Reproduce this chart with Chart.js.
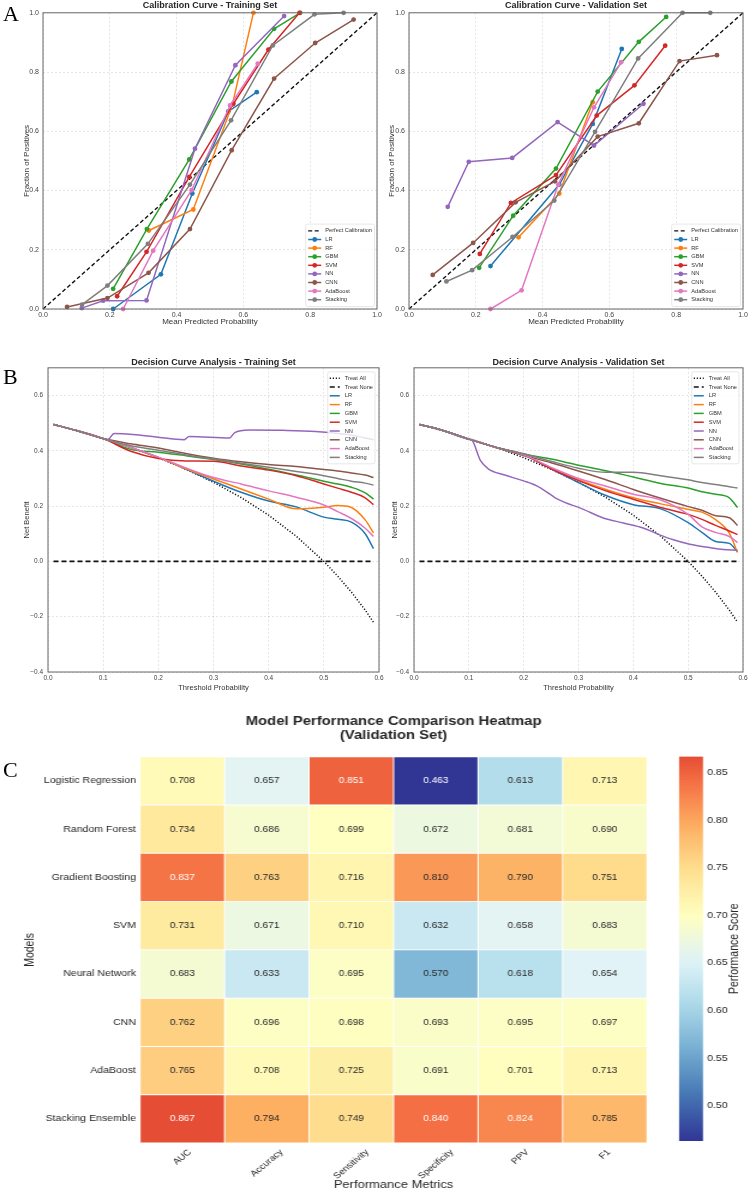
<!DOCTYPE html>
<html>
<head>
<meta charset="utf-8">
<script src="https://cdn.jsdelivr.net/npm/chart.js@4.4.1/dist/chart.umd.min.js"></script>
<style>
  body { margin: 0; background: #fff; }
  #page { position: relative; width: 750px; height: 1193px; overflow: hidden; background: #fff; }
  canvas { position: absolute; }
  .tag { position: absolute; font-family: 'Liberation Serif', 'DejaVu Serif', serif; font-size: 22px; line-height: 1; color: #000; }
</style>
</head>
<body>
<div id="page">
  <canvas id="cal-train" width="390" height="330" style="left:0;top:0"></canvas>
  <canvas id="cal-val" width="375" height="330" style="left:375px;top:0"></canvas>
  <canvas id="dca-train" width="395" height="370" style="left:0;top:330px"></canvas>
  <canvas id="dca-val" width="370" height="370" style="left:380px;top:330px"></canvas>
  <canvas id="heatmap" width="555" height="493" style="left:0;top:700px;transform:scaleX(1.2);transform-origin:0 0"></canvas>
  <canvas id="colorbar" width="75" height="493" style="left:660px;top:700px;transform:scaleX(1.2);transform-origin:0 0"></canvas>
  <div class="tag" style="left:3px;top:3px">A</div>
  <div class="tag" style="left:3px;top:366px">B</div>
  <div class="tag" style="left:3px;top:759px">C</div>
</div>
<script>
const FONT = "'Liberation Sans', Arial, Helvetica, sans-serif"
const GRID = 'rgba(0, 0, 0, 0.13)'
const TXT = '#262626'

const models = ['LR', 'RF', 'GBM', 'SVM', 'NN', 'CNN', 'AdaBoost', 'Stacking']
const modelColors = ['#1f77b4', '#ff7f0e', '#2ca02c', '#d62728', '#9467bd', '#8c564b', '#e377c2', '#7f7f7f']

// calibration curves: [mean predicted probability, fraction of positives]
const perfectCal = [[0, 0], [1, 1]]

const calTrainLR = [[0.21, 0.0], [0.353, 0.117], [0.447, 0.39], [0.555, 0.667], [0.64, 0.732]]
const calTrainRF = [[0.317, 0.265], [0.45, 0.336], [0.567, 0.69], [0.63, 1.0]]
const calTrainGBM = [[0.21, 0.068], [0.311, 0.27], [0.438, 0.505], [0.564, 0.768], [0.692, 0.946], [0.77, 1.0]]
const calTrainSVM = [[0.222, 0.043], [0.31, 0.193], [0.438, 0.446], [0.57, 0.693], [0.675, 0.876], [0.768, 1.0]]
const calTrainNN = [[0.116, 0.003], [0.18, 0.028], [0.31, 0.029], [0.455, 0.541], [0.576, 0.823], [0.722, 0.989]]
const calTrainCNN = [[0.072, 0.007], [0.193, 0.037], [0.316, 0.122], [0.44, 0.27], [0.565, 0.536], [0.692, 0.778], [0.815, 0.898], [0.93, 0.977]]
const calTrainAda = [[0.24, 0.0], [0.33, 0.197], [0.445, 0.401], [0.56, 0.687], [0.643, 0.828]]
const calTrainStack = [[0.117, 0.015], [0.193, 0.079], [0.314, 0.22], [0.44, 0.42], [0.563, 0.637], [0.688, 0.89], [0.813, 0.995], [0.9, 1.0]]

const calValLR = [[0.244, 0.145], [0.45, 0.42], [0.55, 0.625], [0.637, 0.878]]
const calValRF = [[0.328, 0.242], [0.45, 0.39], [0.55, 0.698]]
const calValGBM = [[0.21, 0.139], [0.312, 0.315], [0.44, 0.474], [0.565, 0.734], [0.688, 0.902], [0.77, 0.986]]
const calValSVM = [[0.212, 0.186], [0.305, 0.358], [0.44, 0.452], [0.562, 0.653], [0.675, 0.755], [0.767, 0.889]]
const calValNN = [[0.116, 0.345], [0.179, 0.497], [0.309, 0.51], [0.445, 0.631], [0.554, 0.552], [0.702, 0.693]]
const calValCNN = [[0.071, 0.115], [0.192, 0.223], [0.319, 0.36], [0.437, 0.431], [0.565, 0.582], [0.688, 0.627], [0.81, 0.837], [0.922, 0.857]]
const calValAda = [[0.244, 0.0], [0.337, 0.063], [0.447, 0.42], [0.554, 0.681], [0.635, 0.833]]
const calValStack = [[0.112, 0.093], [0.189, 0.131], [0.31, 0.243], [0.435, 0.366], [0.557, 0.598], [0.686, 0.846], [0.819, 1.0], [0.902, 1.0]]

// decision curves: net benefit at each threshold
const dcaX = [0.01, 0.05, 0.1, 0.15, 0.2, 0.25, 0.3, 0.35, 0.4, 0.45, 0.5, 0.525, 0.55, 0.575, 0.59]
const dcaAll = [0.495, 0.474, 0.444, 0.412, 0.375, 0.333, 0.286, 0.231, 0.167, 0.091, 0.0, -0.053, -0.111, -0.176, -0.22]
const dcaNone = [0, 0, 0, 0, 0, 0, 0, 0, 0, 0, 0, 0, 0, 0, 0]

const dcaTrainLR = [0.495, 0.474, 0.444, 0.412, 0.376, 0.334, 0.29, 0.25, 0.218, 0.197, 0.16, 0.152, 0.142, 0.1, 0.046]
const dcaTrainRF = [0.495, 0.474, 0.444, 0.412, 0.376, 0.335, 0.298, 0.262, 0.225, 0.19, 0.196, 0.202, 0.195, 0.15, 0.103]
const dcaTrainGBM = [0.495, 0.474, 0.444, 0.405, 0.395, 0.382, 0.368, 0.352, 0.333, 0.312, 0.29, 0.28, 0.268, 0.248, 0.225]
const dcaTrainSVM = [0.495, 0.474, 0.444, 0.398, 0.372, 0.363, 0.362, 0.345, 0.33, 0.31, 0.28, 0.265, 0.25, 0.23, 0.205]
const dcaTrainCNN = [0.495, 0.474, 0.444, 0.425, 0.41, 0.39, 0.373, 0.36, 0.35, 0.343, 0.332, 0.327, 0.32, 0.312, 0.303]
const dcaTrainAda = [0.495, 0.474, 0.444, 0.412, 0.377, 0.338, 0.303, 0.28, 0.255, 0.232, 0.204, 0.18, 0.155, 0.12, 0.09]
const dcaTrainStack = [0.495, 0.474, 0.444, 0.418, 0.402, 0.385, 0.37, 0.355, 0.34, 0.325, 0.31, 0.3, 0.29, 0.283, 0.276]
const dcaTrainNNx = [0.01, 0.05, 0.1, 0.108, 0.12, 0.154, 0.196, 0.247, 0.256, 0.329, 0.338, 0.365, 0.425, 0.485, 0.546, 0.59]
const dcaTrainNN = [0.495, 0.474, 0.444, 0.44, 0.462, 0.459, 0.45, 0.44, 0.452, 0.446, 0.465, 0.475, 0.474, 0.47, 0.458, 0.44]

const dcaValLR = [0.495, 0.475, 0.442, 0.412, 0.385, 0.335, 0.285, 0.238, 0.205, 0.19, 0.14, 0.105, 0.072, 0.065, 0.035]
const dcaValRF = [0.495, 0.475, 0.442, 0.412, 0.385, 0.338, 0.295, 0.26, 0.23, 0.208, 0.188, 0.178, 0.151, 0.102, 0.032]
const dcaValGBM = [0.495, 0.475, 0.442, 0.412, 0.388, 0.37, 0.348, 0.328, 0.305, 0.282, 0.265, 0.252, 0.243, 0.23, 0.195]
const dcaValSVM = [0.495, 0.475, 0.442, 0.412, 0.385, 0.335, 0.292, 0.255, 0.225, 0.195, 0.17, 0.152, 0.13, 0.11, 0.097]
const dcaValCNN = [0.495, 0.475, 0.442, 0.412, 0.383, 0.357, 0.327, 0.295, 0.26, 0.228, 0.198, 0.185, 0.165, 0.158, 0.13]
const dcaValAda = [0.495, 0.475, 0.442, 0.412, 0.385, 0.34, 0.3, 0.272, 0.243, 0.222, 0.17, 0.125, 0.105, 0.09, 0.068]
const dcaValStack = [0.495, 0.475, 0.442, 0.412, 0.389, 0.362, 0.337, 0.322, 0.322, 0.31, 0.295, 0.285, 0.278, 0.27, 0.265]
const dcaValNNx = [0.01, 0.05, 0.1, 0.105, 0.121, 0.136, 0.164, 0.2, 0.224, 0.248, 0.26, 0.309, 0.345, 0.382, 0.418, 0.448, 0.473, 0.503, 0.539, 0.564, 0.59]
const dcaValNN = [0.495, 0.475, 0.442, 0.44, 0.365, 0.334, 0.313, 0.291, 0.273, 0.243, 0.227, 0.188, 0.157, 0.139, 0.121, 0.096, 0.078, 0.062, 0.05, 0.043, 0.04]

// heatmap, validation set
const hmModels = ['Logistic Regression', 'Random Forest', 'Gradient Boosting', 'SVM', 'Neural Network', 'CNN', 'AdaBoost', 'Stacking Ensemble']
const hmMetrics = ['AUC', 'Accuracy', 'Sensitivity', 'Specificity', 'PPV', 'F1']
const hmAUC = [0.708, 0.734, 0.837, 0.731, 0.683, 0.762, 0.765, 0.867]
const hmAccuracy = [0.657, 0.686, 0.763, 0.671, 0.633, 0.696, 0.708, 0.794]
const hmSensitivity = [0.851, 0.699, 0.716, 0.710, 0.695, 0.698, 0.725, 0.749]
const hmSpecificity = [0.463, 0.672, 0.810, 0.632, 0.570, 0.693, 0.691, 0.840]
const hmPPV = [0.613, 0.681, 0.790, 0.658, 0.618, 0.695, 0.701, 0.824]
const hmF1 = [0.713, 0.690, 0.751, 0.683, 0.654, 0.697, 0.713, 0.785]
const hmColumns = [hmAUC, hmAccuracy, hmSensitivity, hmSpecificity, hmPPV, hmF1]
const hmCenter = 0.7

// RdYlBu reversed
const rdylbuR = ['#313695', '#4575b4', '#74add1', '#abd9e9', '#e0f3f8', '#ffffbf', '#fee090', '#fdae61', '#f46d43', '#d73027', '#a50026']
const allScores = hmColumns.flat()
const vMin = Math.min(...allScores)
const vMax = Math.max(...allScores)
const vSpan = Math.max(vMax - hmCenter, hmCenter - vMin)

function hex(h) {
  return [1, 3, 5].map(k => parseInt(h.slice(k, k + 2), 16))
}
function heatRGB(v) {
  let f = (v - (hmCenter - vSpan)) / (2 * vSpan)
  f = Math.min(1, Math.max(0, f)) * 10
  const i = Math.min(9, Math.floor(f))
  const t = f - i
  const a = hex(rdylbuR[i]), b = hex(rdylbuR[i + 1])
  return a.map((c, k) => Math.round(c + (b[k] - c) * t))
}
function rgbStr(c) {
  return `rgb(${c[0]}, ${c[1]}, ${c[2]})`
}
function textOn(c) {
  const lin = c.map(x => { x /= 255; return x <= 0.03928 ? x / 12.92 : Math.pow((x + 0.055) / 1.055, 2.4) })
  const lum = 0.2126 * lin[0] + 0.7152 * lin[1] + 0.0722 * lin[2]
  return lum > 0.408 ? TXT : '#ffffff'
}
function pairs(xs, ys) {
  return xs.map((x, i) => ({x: x, y: ys[i]}))
}
function fmt1(v) {
  return v.toFixed(1).replace('-', '\u2212')
}

const frame = {
  id: 'frame',
  afterDatasetsDraw(chart, args, opts) {
    if (!opts.color) return
    const {ctx, chartArea: a} = chart
    ctx.save()
    ctx.strokeStyle = opts.color
    ctx.lineWidth = opts.width
    ctx.strokeRect(a.left, a.top, a.width, a.height)
    ctx.restore()
  }
}

const boxLegend = {
  id: 'boxLegend',
  afterDraw(chart, args, o) {
    if (!o.size) return
    const {ctx, chartArea: a} = chart
    const items = chart.data.datasets
    ctx.save()
    ctx.font = `${o.size}px ${FONT}`
    const tw = Math.max(...items.map(d => ctx.measureText(d.label).width))
    const w = o.pad * 2 + o.line + o.gap + tw
    const h = o.pad * 2 + o.row * items.length
    const x0 = a.right - o.margin - w
    const y0 = o.corner === 'top' ? a.top + o.margin : a.bottom - o.margin - h
    ctx.fillStyle = 'rgba(255, 255, 255, 0.8)'
    ctx.strokeStyle = '#d6d6d6'
    ctx.lineWidth = 0.6
    ctx.beginPath()
    ctx.roundRect(x0, y0, w, h, 2)
    ctx.fill()
    ctx.stroke()
    items.forEach((d, i) => {
      const y = y0 + o.pad + o.row * (i + 0.5)
      const lx = x0 + o.pad
      ctx.strokeStyle = d.borderColor
      ctx.lineWidth = d.borderWidth
      ctx.setLineDash(d.borderDash || [])
      ctx.beginPath()
      ctx.moveTo(lx, y)
      ctx.lineTo(lx + o.line, y)
      ctx.stroke()
      ctx.setLineDash([])
      if (d.pointRadius > 0) {
        ctx.fillStyle = d.borderColor
        ctx.beginPath()
        ctx.arc(lx + o.line / 2, y, d.pointRadius, 0, Math.PI * 2)
        ctx.fill()
      }
      ctx.fillStyle = '#333'
      ctx.textBaseline = 'middle'
      ctx.fillText(d.label, lx + o.line + o.gap, y)
    })
    ctx.restore()
  }
}

const cellText = {
  id: 'cellText',
  afterDatasetsDraw(chart) {
    const ctx = chart.ctx
    ctx.save()
    ctx.font = `8.4px ${FONT}`
    ctx.textAlign = 'center'
    ctx.textBaseline = 'middle'
    chart.data.datasets.forEach((ds, j) => {
      chart.getDatasetMeta(j).data.forEach((bar, i) => {
        const v = ds.scores[i]
        ctx.fillStyle = textOn(heatRGB(v))
        ctx.fillText(v.toFixed(3), (bar.x + bar.base) / 2, bar.y)
      })
    })
    ctx.restore()
  }
}

// metric names under the columns, rotated 45 degrees and centred on each column
const metricLabels = {
  id: 'metricLabels',
  afterDraw(chart, args, o) {
    const s = chart.scales.x
    const ctx = chart.ctx
    ctx.save()
    ctx.font = `${o.size}px ${FONT}`
    ctx.fillStyle = TXT
    ctx.textAlign = 'center'
    ctx.textBaseline = 'middle'
    s.ticks.forEach((t, i) => {
      const text = hmMetrics[i]
      const w = ctx.measureText(text).width
      const half = (w + o.size) * Math.SQRT1_2 / 2
      ctx.save()
      ctx.translate(s.getPixelForValue(t.value), s.top + o.pad + half)
      ctx.rotate(-Math.PI / 4)
      ctx.fillText(text, 0, 0)
      ctx.restore()
    })
    ctx.restore()
  }
}

const cbarLabel = {
  id: 'cbarLabel',
  afterDraw(chart, args, o) {
    const {ctx, chartArea: a} = chart
    ctx.save()
    ctx.translate(o.x, (a.top + a.bottom) / 2)
    ctx.rotate(-Math.PI / 2)
    ctx.font = `${o.size}px ${FONT}`
    ctx.fillStyle = TXT
    ctx.textAlign = 'center'
    ctx.textBaseline = 'middle'
    ctx.fillText(o.text, 0, 0)
    ctx.restore()
  }
}

function calChart(id, title, series, o) {
  const sets = [{
    label: 'Perfect Calibration', data: perfectCal.map(p => ({x: p[0], y: p[1]})),
    borderColor: '#111', borderDash: [4, 2.5], borderWidth: 1.4, pointRadius: 0
  }]
  series.forEach((pts, i) => sets.push({
    label: models[i], data: pts.map(p => ({x: p[0], y: p[1]})),
    borderColor: modelColors[i], backgroundColor: modelColors[i],
    borderWidth: 1.5, pointRadius: 2.4, pointBorderWidth: 0
  }))
  sets.forEach((s, i) => { s.order = sets.length - i; s.clip = 6 })

  return new Chart(document.getElementById(id), {
    type: 'line',
    data: {datasets: sets},
    options: {
      responsive: false, animation: false, events: [],
      layout: {autoPadding: false, padding: {left: 0, right: o.padR, top: 0, bottom: 0}},
      plugins: {
        legend: {display: false},
        tooltip: {enabled: false},
        title: {display: true, fullSize: false, text: title, color: TXT, font: {family: FONT, size: 9, weight: 'bold'}, padding: {top: 0, bottom: 2}},
        frame: {color: '#666', width: 1},
        boxLegend: {corner: 'bottom', size: 5.7, row: 8.6, line: 13, gap: 4, pad: 2.5, margin: 2.5}
      },
      scales: {
        x: {
          type: 'linear', min: 0, max: 1,
          ticks: {stepSize: 0.2, padding: 1.5, color: '#444', font: {family: FONT, size: 7}, callback: fmt1},
          grid: {color: GRID, lineWidth: 0.8, drawTicks: false},
          border: {display: false, dash: [2, 2]},
          title: {display: true, text: 'Mean Predicted Probability', color: '#333', font: {family: FONT, size: 8}, padding: {top: 0, bottom: 3.2}},
          afterFit: s => { s.height = 21 }
        },
        y: {
          type: 'linear', min: 0, max: 1,
          ticks: {stepSize: 0.2, padding: 4, color: '#444', font: {family: FONT, size: 7}, callback: fmt1},
          grid: {color: GRID, lineWidth: 0.8, drawTicks: false},
          border: {display: false, dash: [2, 2]},
          title: {display: true, text: 'Fraction of Positives', color: '#333', font: {family: FONT, size: 8}, padding: {top: o.titlePad, bottom: 0}},
          afterFit: s => { s.width = o.yW }
        }
      }
    },
    plugins: [frame, boxLegend]
  })
}

function dcaChart(id, title, lines, o) {
  const sets = [
    {label: 'Treat All', data: pairs(dcaX, dcaAll), borderColor: '#111', borderDash: [1.2, 1.8], borderWidth: 1.5},
    {label: 'Treat None', data: pairs(dcaX, dcaNone), borderColor: '#111', borderDash: [5, 3], borderWidth: 1.6}
  ]
  lines.forEach((l, i) => sets.push({
    label: models[i], data: pairs(l[0], l[1]),
    borderColor: modelColors[i], borderWidth: 1.5, cubicInterpolationMode: 'monotone'
  }))
  sets.forEach((s, i) => { s.order = sets.length - i; s.pointRadius = 0 })

  return new Chart(document.getElementById(id), {
    type: 'line',
    data: {datasets: sets},
    options: {
      responsive: false, animation: false, events: [],
      layout: {autoPadding: false, padding: {left: 0, right: o.padR, top: 0, bottom: 0}},
      plugins: {
        legend: {display: false},
        tooltip: {enabled: false},
        title: {display: true, fullSize: false, text: title, color: TXT, font: {family: FONT, size: 9, weight: 'bold'}, padding: {top: 27, bottom: 0}},
        frame: {color: '#666', width: 1},
        boxLegend: {corner: 'top', size: 5.7, row: 8.8, line: 10, gap: 5, pad: 2, margin: 4}
      },
      scales: {
        x: {
          type: 'linear', min: 0, max: 0.6,
          ticks: {stepSize: 0.1, padding: 2, color: '#444', font: {family: FONT, size: 6.5}, callback: fmt1},
          grid: {color: GRID, lineWidth: 0.8, drawTicks: false},
          border: {display: false, dash: [2, 2]},
          title: {display: true, text: 'Threshold Probability', color: '#333', font: {family: FONT, size: 7.5}, padding: {top: 0, bottom: 7.5}},
          afterFit: s => { s.height = 28 }
        },
        y: {
          type: 'linear', min: -0.4, max: 0.7,
          ticks: {stepSize: 0.2, includeBounds: false, padding: 5, color: '#444', font: {family: FONT, size: 6.5}, callback: fmt1},
          grid: {color: GRID, lineWidth: 0.8, drawTicks: false},
          border: {display: false, dash: [2, 2]},
          title: {display: true, text: 'Net Benefit', color: '#333', font: {family: FONT, size: 7.5}, padding: {top: o.titlePad, bottom: 0}},
          afterFit: s => { s.width = o.yW }
        }
      }
    },
    plugins: [frame, boxLegend]
  })
}

calChart('cal-train', 'Calibration Curve - Training Set',
  [calTrainLR, calTrainRF, calTrainGBM, calTrainSVM, calTrainNN, calTrainCNN, calTrainAda, calTrainStack],
  {padR: 13, yW: 43, titlePad: 21.5})
calChart('cal-val', 'Calibration Curve - Validation Set',
  [calValLR, calValRF, calValGBM, calValSVM, calValNN, calValCNN, calValAda, calValStack],
  {padR: 7, yW: 34, titlePad: 12.2})

dcaChart('dca-train', 'Decision Curve Analysis - Training Set', [
  [dcaX, dcaTrainLR], [dcaX, dcaTrainRF], [dcaX, dcaTrainGBM], [dcaX, dcaTrainSVM],
  [dcaTrainNNx, dcaTrainNN], [dcaX, dcaTrainCNN], [dcaX, dcaTrainAda], [dcaX, dcaTrainStack]
], {padR: 16, yW: 48, titlePad: 22})
dcaChart('dca-val', 'Decision Curve Analysis - Validation Set', [
  [dcaX, dcaValLR], [dcaX, dcaValRF], [dcaX, dcaValGBM], [dcaX, dcaValSVM],
  [dcaValNNx, dcaValNN], [dcaX, dcaValCNN], [dcaX, dcaValAda], [dcaX, dcaValStack]
], {padR: 7, yW: 34, titlePad: 10.5})

new Chart(document.getElementById('heatmap'), {
  type: 'bar',
  data: {
    labels: hmModels,
    datasets: hmColumns.map((col, j) => ({
      label: hmMetrics[j],
      scores: col,
      data: col.map(() => [j, j + 1]),
      backgroundColor: col.map(v => rgbStr(heatRGB(v))),
      borderColor: '#ffffff',
      borderWidth: 0.8,
      borderSkipped: false,
      barPercentage: 1,
      categoryPercentage: 1,
      grouped: false
    }))
  },
  options: {
    indexAxis: 'y', responsive: false, animation: false, events: [],
    layout: {autoPadding: false, padding: {left: 0, right: 15.8, top: 0, bottom: 0}},
    plugins: {
      legend: {display: false},
      tooltip: {enabled: false},
      title: {
        display: true, fullSize: false,
        text: ['Model Performance Comparison Heatmap', '(Validation Set)'],
        color: TXT, font: {family: FONT, size: 12.4, weight: 'bold', lineHeight: 1.1},
        padding: {top: 15, bottom: 14.5}
      },
      metricLabels: {size: 8.4, pad: 5}
    },
    scales: {
      x: {
        type: 'linear', min: 0, max: hmMetrics.length,
        afterBuildTicks: s => { s.ticks = hmMetrics.map((m, i) => ({value: i + 0.5})) },
        ticks: {display: false},
        grid: {display: false, drawTicks: false},
        border: {display: false},
        title: {display: true, text: 'Performance Metrics', color: TXT, font: {family: FONT, size: 10.8}, padding: {top: 0, bottom: 1}},
        afterFit: s => { s.height = 50 }
      },
      y: {
        ticks: {padding: 3.4, color: TXT, font: {family: FONT, size: 8.8}},
        grid: {display: false, drawTicks: false},
        border: {display: false},
        title: {display: true, text: 'Models', color: TXT, font: {family: FONT, size: 10.5}, padding: {top: 18.7, bottom: 0}},
        afterFit: s => { s.width = 116.7 }
      }
    }
  },
  plugins: [cellText, metricLabels]
})

new Chart(document.getElementById('colorbar'), {
  type: 'bar',
  data: {
    labels: [''],
    datasets: [{
      data: [[vMin, vMax]],
      backgroundColor: c => {
        const a = c.chart.chartArea
        if (!a) return rgbStr(heatRGB(hmCenter))
        const g = c.chart.ctx.createLinearGradient(0, a.bottom, 0, a.top)
        for (let k = 0; k <= 24; k++) {
          g.addColorStop(k / 24, rgbStr(heatRGB(vMin + (vMax - vMin) * k / 24)))
        }
        return g
      },
      borderWidth: 0,
      barPercentage: 1,
      categoryPercentage: 1
    }]
  },
  options: {
    responsive: false, animation: false, events: [],
    layout: {autoPadding: false, padding: {left: 15.8, right: 0, top: 56.5, bottom: 52}},
    plugins: {
      legend: {display: false},
      tooltip: {enabled: false},
      cbarLabel: {text: 'Performance Score', x: 62.5, size: 10.5}
    },
    scales: {
      x: {display: false},
      y: {
        position: 'right', min: vMin, max: vMax,
        ticks: {stepSize: 0.05, includeBounds: false, padding: 3.4, color: TXT, font: {family: FONT, size: 8.8}, callback: v => v.toFixed(2)},
        grid: {display: false, drawTicks: false},
        border: {display: false},
        afterFit: s => { s.width = 39.2 }
      }
    }
  },
  plugins: [cbarLabel]
})
</script>
</body>
</html>
